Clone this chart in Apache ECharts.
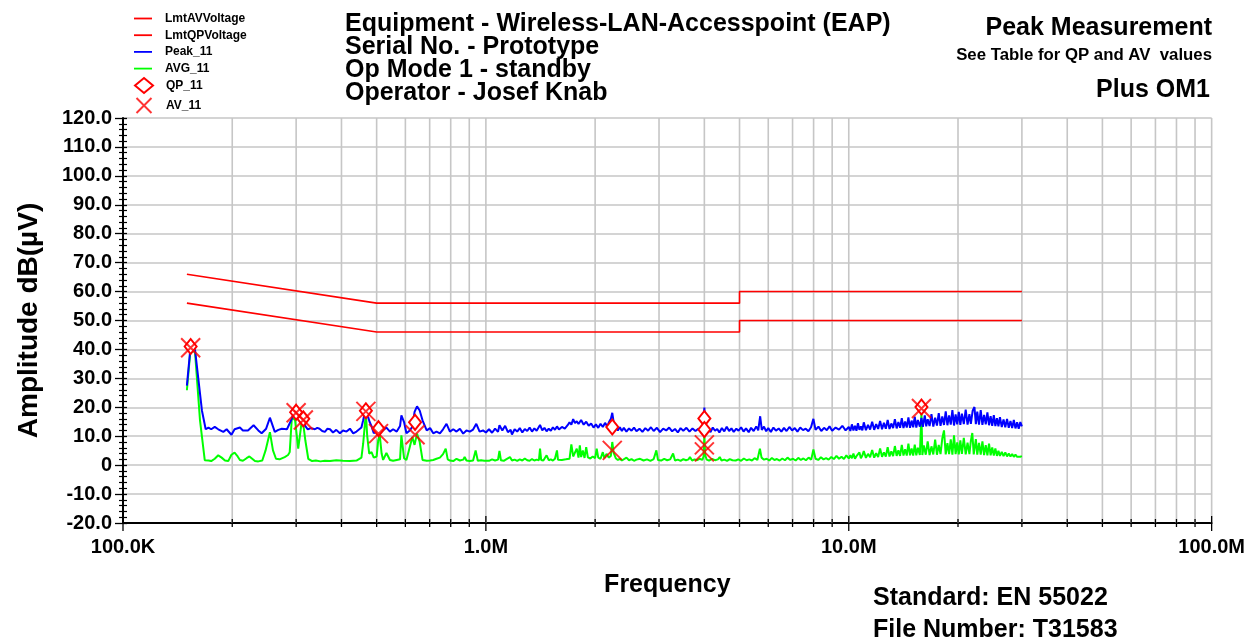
<!DOCTYPE html>
<html>
<head>
<meta charset="utf-8">
<script src="https://cdn.jsdelivr.net/npm/echarts@6/dist/echarts.min.js"></script>
<style>
  html, body { margin: 0; padding: 0; background: #ffffff; }
  #chart { width: 1248px; height: 639px; }
</style>
</head>
<body>
<div id="chart"></div>
<script>
// ---- Limit lines (frequency in MHz, level in dBµV) ----
const lmtAVVoltage = [[0.15, 56], [0.5, 46], [5, 46], [5, 50], [30, 50]];
const lmtQPVoltage = [[0.15, 66], [0.5, 56], [5, 56], [5, 60], [30, 60]];

// ---- Peak detector sweep ----
const peak11 = [
  [0.150,27.5],[0.1536,41.2],[0.158,39.7],[0.165,18.9],[0.169,12.4],[0.172,13.0],[0.175,12.4],[0.179,13.2],
  [0.183,12.4],[0.189,11.5],[0.193,12.4],[0.199,10.5],[0.203,12.4],[0.210,13.0],[0.214,12.0],[0.221,12.0],
  [0.229,13.8],[0.236,12.0],[0.241,11.0],[0.248,12.6],[0.254,16.4],[0.262,11.5],[0.268,12.2],[0.274,12.6],
  [0.283,12.4],[0.292,16.1],[0.296,18.4],[0.300,17.0],[0.304,16.4],[0.309,18.9],[0.314,16.1],[0.318,13.5],
  [0.323,12.4],[0.330,12.8],[0.338,12.4],[0.343,12.9],[0.348,12.6],[0.354,11.8],[0.360,11.5],[0.366,12.6],
  [0.372,12.4],[0.379,11.3],[0.387,12.2],[0.396,11.0],[0.404,12.0],[0.413,11.6],[0.422,12.6],[0.431,11.0],
  [0.440,11.6],[0.454,13.0],[0.459,15.5],[0.464,18.4],[0.469,18.9],[0.474,16.5],[0.478,15.0],[0.484,13.5],
  [0.491,11.0],[0.500,12.0],[0.507,14.8],[0.512,12.8],[0.516,11.6],[0.521,12.0],[0.532,13.0],[0.544,11.6],
  [0.555,12.4],[0.568,11.6],[0.580,13.5],[0.585,17.2],[0.595,14.9],[0.604,11.0],[0.617,12.0],[0.627,13.2],
  [0.636,18.4],[0.646,20.3],[0.657,18.9],[0.669,15.5],[0.687,12.0],[0.702,12.8],[0.716,11.0],[0.731,11.6],
  [0.747,11.0],[0.762,12.4],[0.779,14.3],[0.796,11.6],[0.813,12.4],[0.830,11.6],[0.848,12.6],[0.866,10.9],
  [0.884,12.0],[0.903,11.6],[0.922,12.3],[0.941,14.3],[0.961,11.6],[0.982,12.0],
  [1.00,11.3],[1.02,12.4],[1.04,11.2],[1.06,12.6],[1.08,11.5],[1.09,13.8],[1.11,12.0],[1.13,13.6],
  [1.15,11.4],[1.17,12.2],[1.18,10.6],[1.20,12.4],[1.22,11.6],[1.24,12.8],[1.26,11.3],[1.28,12.5],
  [1.30,11.8],[1.32,13.0],[1.34,11.6],[1.36,12.7],[1.38,11.9],[1.41,13.9],[1.43,12.0],[1.45,12.9],
  [1.47,11.7],[1.49,12.6],[1.51,11.9],[1.53,13.1],[1.55,12.2],[1.57,13.4],[1.59,12.3],[1.62,13.2],
  [1.65,12.6],[1.68,13.8],[1.70,14.8],[1.72,14.0],[1.74,15.9],[1.76,14.5],[1.78,15.2],[1.80,14.2],
  [1.83,15.6],[1.86,14.0],[1.89,15.0],[1.92,13.6],[1.95,14.4],[1.98,13.0],[2.01,14.1],[2.04,12.9],
  [2.07,14.3],[2.10,13.2],[2.13,14.6],[2.16,13.4],[2.19,15.2],[2.21,16.0],[2.23,18.1],[2.25,14.8],
  [2.28,13.4],[2.31,12.0],[2.34,13.1],[2.37,11.8],[2.40,12.9],[2.44,11.6],[2.48,12.7],[2.52,11.9],
  [2.56,13.0],[2.60,11.7],[2.65,12.6],[2.70,11.5],[2.75,12.8],[2.80,11.9],[2.85,13.1],[2.90,11.8],
  [2.96,12.9],[3.02,11.4],[3.08,12.6],[3.14,12.0],[3.20,13.0],[3.26,11.7],[3.32,12.5],[3.38,11.3],
  [3.44,12.8],[3.50,11.9],[3.57,12.9],[3.64,11.6],[3.71,12.7],[3.78,11.8],[3.85,12.6],[3.92,12.0],
  [3.97,13.0],[4.00,19.9],[4.03,13.2],[4.07,11.8],
  [4.10,12.9],[4.16,11.4],[4.22,13.0],[4.28,11.9],[4.34,12.5],[4.40,11.3],[4.47,12.8],[4.54,11.7],
  [4.61,13.3],[4.68,11.8],[4.75,12.7],[4.82,11.5],[4.90,12.6],[4.97,11.9],[5.05,13.1],[5.13,11.6],
  [5.21,12.7],[5.30,11.4],[5.38,12.9],[5.47,11.8],[5.56,13.4],[5.63,12.0],[5.70,16.9],[5.76,12.2],
  [5.84,13.3],[5.92,11.7],[6.00,12.8],[6.10,11.5],[6.20,13.0],[6.30,11.9],[6.41,12.7],[6.52,11.6],
  [6.63,12.9],[6.74,11.8],[6.86,13.2],[6.98,12.0],[7.10,12.8],[7.22,11.6],[7.35,13.0],[7.48,12.1],
  [7.61,12.6],[7.74,11.7],[7.87,13.1],[7.99,16.0],[8.10,12.2],[8.25,13.3],[8.40,11.8],[8.55,12.9],
  [8.70,12.1],[8.85,13.4],[9.00,11.9],[9.20,13.0],[9.40,12.3],[9.60,13.6],[9.80,12.0],
  [10.0,13.2],[10.1,11.8],[10.2,14.1],[10.3,12.0],[10.4,13.6],[10.5,11.9],[10.6,14.5],[10.7,12.2],
  [10.8,13.4],[10.9,12.0],[11.0,14.8],[11.15,12.1],[11.3,13.9],[11.45,12.3],[11.6,15.0],[11.75,12.2],
  [11.9,14.2],[12.05,12.5],[12.2,15.3],[12.35,12.4],[12.5,14.6],[12.65,12.6],[12.8,15.6],[12.95,12.5],
  [13.1,14.4],[13.25,12.8],[13.4,15.9],[13.55,12.7],[13.7,14.9],[13.85,12.9],[14.0,16.2],[14.15,12.8],
  [14.3,15.1],[14.45,13.0],[14.6,16.5],[14.75,12.9],[14.9,15.4],[15.05,13.1],[15.2,16.8],[15.35,13.0],
  [15.5,15.6],[15.7,13.3],[15.86,16.3],[16.0,13.2],[16.2,17.2],[16.35,13.4],[16.5,15.9],[16.7,13.5],
  [16.9,17.6],[17.1,13.3],[17.3,16.4],[17.5,13.7],[17.7,18.0],[17.9,13.6],[18.1,16.8],[18.3,13.9],
  [18.5,18.6],[18.7,13.8],[18.9,17.2],[19.1,14.0],[19.3,19.0],[19.5,13.7],[19.7,17.5],[19.9,14.1],
  [20.1,18.4],[20.3,13.9],[20.5,17.8],[20.75,14.2],[21.0,19.2],[21.25,14.0],[21.5,17.6],[21.7,14.3],
  [21.95,18.8],[22.2,20.1],[22.4,14.2],[22.6,18.5],[22.85,14.0],[23.1,19.0],[23.35,13.9],[23.6,17.4],
  [23.85,14.1],[24.1,18.2],[24.35,13.8],[24.6,16.9],[24.85,13.6],[25.1,17.3],[25.35,13.5],[25.6,16.2],
  [25.85,13.4],[26.1,16.6],[26.4,13.2],[26.7,15.8],[27.0,13.1],[27.3,16.0],[27.6,12.9],[27.9,15.3],
  [28.2,12.8],[28.5,15.6],[28.8,12.7],[29.1,14.8],[29.4,12.6],[29.7,14.9],[30.0,13.4]
];

// ---- Average detector sweep ----
const avg11 = [
  [0.150,25.9],[0.1536,40.5],[0.158,38.8],[0.163,15.5],[0.168,1.7],[0.172,1.6],[0.175,1.4],[0.179,2.2],
  [0.183,3.4],[0.187,2.6],[0.191,1.6],[0.195,1.4],[0.199,3.6],[0.203,4.3],[0.207,3.0],[0.210,1.8],
  [0.214,1.5],[0.219,2.4],[0.223,3.0],[0.227,2.2],[0.231,1.4],[0.236,1.3],[0.242,1.6],[0.247,5.0],
  [0.254,11.4],[0.259,5.1],[0.264,2.2],[0.270,2.0],[0.279,2.8],[0.285,3.5],[0.288,4.5],[0.292,16.6],
  [0.298,15.5],[0.304,5.7],[0.312,16.8],[0.318,8.6],[0.324,2.2],[0.332,1.4],[0.340,1.6],[0.350,1.3],
  [0.360,1.5],[0.372,1.4],[0.387,1.7],[0.404,1.5],[0.422,1.4],[0.440,1.6],[0.454,2.6],[0.459,7.4],
  [0.467,18.0],[0.471,10.0],[0.477,4.0],[0.484,4.5],[0.491,2.6],[0.500,3.0],[0.505,8.6],[0.510,10.3],
  [0.516,4.0],[0.521,1.8],[0.532,4.2],[0.544,1.8],[0.555,1.5],[0.568,1.8],[0.580,2.0],[0.585,10.3],
  [0.595,2.4],[0.604,1.8],[0.617,6.3],[0.627,9.7],[0.636,7.0],[0.646,10.9],[0.657,8.0],[0.669,1.8],
  [0.687,1.5],[0.702,1.6],[0.716,1.8],[0.731,2.2],[0.747,2.6],[0.762,3.8],[0.775,5.7],[0.785,2.0],
  [0.796,1.6],[0.813,1.4],[0.830,2.2],[0.848,1.6],[0.866,1.9],[0.874,2.8],[0.884,1.6],[0.903,1.4],
  [0.922,1.6],[0.937,5.1],[0.950,1.5],[0.970,1.7],[0.990,1.5],
  [1.00,1.8],[1.02,1.5],[1.04,2.0],[1.06,1.6],[1.08,1.9],[1.09,4.9],[1.10,1.7],[1.12,1.5],
  [1.14,2.1],[1.165,2.8],[1.18,1.6],[1.20,1.9],[1.22,1.5],[1.24,2.0],[1.26,1.6],[1.28,2.3],
  [1.30,1.7],[1.32,1.5],[1.34,2.1],[1.36,1.6],[1.38,1.9],[1.40,1.7],[1.41,5.7],[1.42,1.8],
  [1.44,1.6],[1.47,3.4],[1.49,1.7],[1.51,2.0],[1.53,1.6],[1.55,2.2],[1.57,5.1],[1.58,1.9],
  [1.60,2.1],[1.62,1.8],[1.64,2.4],[1.66,2.0],[1.68,2.6],[1.70,2.2],[1.72,7.2],[1.74,3.0],
  [1.76,2.4],[1.78,5.7],[1.80,2.6],[1.815,6.8],[1.83,2.8],[1.85,5.1],[1.87,2.5],[1.89,6.2],
  [1.91,2.7],[1.94,2.3],[1.97,3.0],[2.00,2.4],[2.02,5.7],[2.04,2.6],[2.07,2.2],[2.10,4.5],
  [2.12,2.5],[2.15,3.9],[2.18,2.6],[2.21,3.2],[2.23,8.0],[2.25,4.2],[2.28,2.4],[2.31,1.8],
  [2.34,2.2],[2.37,1.6],[2.40,2.0],[2.44,2.6],[2.48,1.7],[2.52,2.1],[2.56,1.5],[2.60,1.9],
  [2.66,2.2],[2.72,1.6],[2.78,2.0],[2.84,1.5],[2.90,2.1],[2.95,5.1],[2.98,1.8],[3.04,1.6],
  [3.10,2.2],[3.16,1.7],[3.22,2.0],[3.28,4.0],[3.32,1.6],[3.38,1.9],[3.44,1.5],[3.50,2.1],
  [3.56,1.7],[3.62,2.0],[3.65,2.8],[3.70,1.6],[3.76,2.0],[3.82,1.7],[3.88,2.2],[3.95,1.8],
  [3.98,3.0],[4.00,10.3],[4.02,3.5],[4.06,1.9],
  [4.12,1.6],[4.20,2.2],[4.28,1.7],[4.36,2.0],[4.41,2.8],[4.46,1.6],[4.54,1.9],[4.62,1.5],
  [4.70,2.1],[4.78,1.7],[4.81,2.2],[4.88,1.6],[4.96,2.0],[5.05,1.5],[5.14,2.3],[5.23,1.7],
  [5.32,2.0],[5.41,1.6],[5.50,2.4],[5.60,1.8],[5.69,5.7],[5.75,2.6],[5.84,1.9],[5.94,2.2],
  [6.04,1.6],[6.14,2.5],[6.24,1.8],[6.34,2.1],[6.45,1.6],[6.56,2.3],[6.67,1.7],[6.78,2.6],
  [6.90,1.8],[7.02,2.2],[7.14,1.6],[7.26,2.5],[7.38,1.8],[7.50,2.3],[7.62,1.7],[7.75,2.6],
  [7.88,1.9],[7.99,5.4],[8.10,2.2],[8.24,1.8],[8.38,2.7],[8.52,2.0],[8.66,2.4],[8.80,1.9],
  [8.95,2.8],[9.10,2.1],[9.25,3.2],[9.40,2.2],[9.55,2.9],[9.70,2.1],[9.85,3.4],
  [10.0,2.3],[10.1,3.4],[10.2,2.4],[10.3,4.0],[10.4,2.2],[10.5,3.1],[10.6,2.6],[10.7,4.4],
  [10.8,2.4],[10.9,3.3],[11.0,4.9],[11.15,2.5],[11.3,3.9],[11.45,2.7],[11.6,5.2],[11.75,2.6],
  [11.9,4.1],[12.05,2.8],[12.2,5.8],[12.35,2.9],[12.5,4.4],[12.65,3.0],[12.8,6.2],[12.95,3.0],
  [13.1,4.8],[13.25,3.1],[13.4,6.6],[13.55,3.2],[13.7,5.1],[13.85,3.2],[14.0,7.0],[14.15,3.3],
  [14.3,5.5],[14.45,3.3],[14.6,7.4],[14.75,3.4],[14.9,5.8],[15.05,3.3],[15.2,7.1],[15.35,3.4],
  [15.5,6.0],[15.7,3.5],[15.86,18.0],[15.95,3.5],[16.1,6.8],[16.3,3.6],[16.5,8.2],[16.7,3.5],
  [16.9,6.5],[17.1,3.7],[17.3,8.8],[17.5,3.6],[17.7,7.0],[17.9,3.8],[18.1,9.2],[18.3,12.0],
  [18.5,3.7],[18.7,7.6],[18.9,3.8],[19.1,8.9],[19.3,3.6],[19.5,10.3],[19.7,3.8],[19.9,7.9],
  [20.1,3.7],[20.3,8.6],[20.5,3.9],[20.75,9.4],[21.0,3.7],[21.25,7.8],[21.5,3.8],[21.7,8.4],
  [21.9,11.1],[22.1,3.7],[22.4,9.0],[22.6,3.6],[22.85,7.7],[23.1,3.6],[23.35,8.2],[23.6,3.5],
  [23.85,6.9],[24.1,3.4],[24.35,7.4],[24.6,3.4],[24.85,6.1],[25.1,3.3],[25.35,5.8],[25.6,3.2],
  [25.85,5.0],[26.1,3.2],[26.4,4.6],[26.7,3.1],[27.0,4.4],[27.3,3.0],[27.6,4.0],[27.9,3.0],
  [28.2,3.8],[28.5,2.9],[28.8,3.6],[29.1,2.9],[29.4,3.4],[29.7,2.9],[30.0,3.1]
];

// ---- Final measurements ----
const qp11 = [[0.1536,41.0],[0.300,18.3],[0.314,16.0],[0.467,18.8],[0.506,12.6],[0.638,14.8],
              [2.23,13.2],[4.00,16.1],[4.00,12.3],[15.86,20.1]];
const av11 = [[0.1536,40.6],[0.300,18.1],[0.314,15.6],[0.467,18.6],[0.506,10.9],[0.638,10.5],
              [2.23,5.1],[4.00,7.0],[4.00,4.6],[15.86,19.6]];

// ---- Axis ----
const freqGridMHz = [0.1,0.2,0.3,0.4,0.5,0.6,0.7,0.8,0.9,
                     1,2,3,4,5,6,7,8,9,
                     10,20,30,40,50,60,70,80,90,100];
const freqDecadesMHz = [0.1, 1, 10, 100];
const levelMin = -20, levelMax = 120, levelStep = 10;

const FONT = '"Liberation Sans", Arial, Helvetica, sans-serif';
const RED = '#ff0000', BLUE = '#0000ff', GREEN = '#00ff00', GRID = '#c6c6c6';
const LINE_ICON = 'path://M0,0H18V1.8H0Z';

function freqLabel(v) {
  return v >= 1 ? v.toFixed(1) + 'M' : (v * 1000).toFixed(1) + 'K';
}

// vertical grid lines at 1..9 x decade plus the small tick marks on the frequency axis
function renderFreqGrid(params, api) {
  const f = api.value(0);
  const major = api.value(2) === 1;
  const top = api.coord([f, levelMax]);
  const bot = api.coord([f, levelMin]);
  const children = [];
  if (f > freqGridMHz[0] * 1.01) {
    children.push({ type: 'line', shape: { x1: top[0], y1: top[1], x2: bot[0], y2: bot[1] },
                    style: { stroke: GRID, lineWidth: 1.6 } });
  }
  children.push({ type: 'line',
                  shape: { x1: bot[0], y1: bot[1] - (major ? 7 : 4), x2: bot[0], y2: bot[1] + (major ? 8 : 4) },
                  style: { stroke: '#000', lineWidth: 1.3 } });
  return { type: 'group', children };
}

const xMarkPath = 'path://M0,0L20,20M20,0L0,20';
const legendText = { fontFamily: FONT, fontWeight: 'bold', fontSize: 12, color: '#000', padding: [0, 0, 0, 8] };

const chart = echarts.init(document.getElementById('chart'), null, { renderer: 'canvas' });
chart.setOption({
  animation: false,
  backgroundColor: '#ffffff',
  textStyle: { fontFamily: FONT },
  title: [
    { text: 'Equipment - Wireless-LAN-Accesspoint (EAP)\nSerial No. - Prototype\nOp Mode 1 - standby\nOperator - Josef Knab',
      left: 345, top: 12, padding: 0,
      textStyle: { fontFamily: FONT, fontWeight: 'bold', fontSize: 25, lineHeight: 23.3, color: '#000' } },
    { text: 'Peak Measurement', right: 36, top: 16, padding: 0,
      textStyle: { fontFamily: FONT, fontWeight: 'bold', fontSize: 25, color: '#000' } },
    { text: 'See Table for QP and AV  values', right: 36, top: 47, padding: 0,
      textStyle: { fontFamily: FONT, fontWeight: 'bold', fontSize: 16.8, color: '#000' } },
    { text: 'Plus OM1', right: 38, top: 78, padding: 0,
      textStyle: { fontFamily: FONT, fontWeight: 'bold', fontSize: 25, color: '#000' } },
    { text: 'Standard: EN 55022', left: 873, top: 586, padding: 0,
      textStyle: { fontFamily: FONT, fontWeight: 'bold', fontSize: 25, color: '#000' } },
    { text: 'File Number: T31583', left: 873, top: 618, padding: 0,
      textStyle: { fontFamily: FONT, fontWeight: 'bold', fontSize: 25, color: '#000' } }
  ],
  legend: [
    { data: [{ name: 'LmtAVVoltage', icon: LINE_ICON }, { name: 'LmtQPVoltage', icon: LINE_ICON },
             { name: 'Peak_11', icon: LINE_ICON }, { name: 'AVG_11', icon: LINE_ICON }],
      orient: 'vertical', left: 134, top: 12.5, padding: 0,
      itemWidth: 18, itemHeight: 12, itemGap: 4.7, selectedMode: false, textStyle: legendText },
    { data: ['QP_11', 'AV_11'],
      orient: 'vertical', left: 134, top: 77, padding: 0,
      itemWidth: 18, itemHeight: 15, itemGap: 1.5, selectedMode: false, textStyle: legendText }
  ],
  grid: { left: 123, right: 36, top: 118, bottom: 116, containLabel: false },
  xAxis: {
    type: 'log', logBase: 10, min: 0.1, max: 100,
    name: 'Frequency', nameLocation: 'middle', nameGap: 50,
    nameTextStyle: { fontFamily: FONT, fontWeight: 'bold', fontSize: 25, color: '#000' },
    axisLine: { onZero: false, lineStyle: { color: '#000', width: 2 } },
    axisTick: { show: false },
    splitLine: { show: false },
    axisLabel: { formatter: freqLabel, margin: 14, fontFamily: FONT, fontWeight: 'bold', fontSize: 20, color: '#000' }
  },
  yAxis: [
    { type: 'value', min: levelMin, max: levelMax, interval: levelStep,
      name: 'Amplitude dB(µV)', nameLocation: 'middle', nameGap: 80,
      nameTextStyle: { fontFamily: FONT, fontWeight: 'bold', fontSize: 28, color: '#000' },
      axisLine: { show: true, lineStyle: { color: '#000', width: 2 } },
      axisTick: { show: true, length: 8, lineStyle: { color: '#000', width: 1.3 } },
      minorTick: { show: true, splitNumber: 5, length: 4, lineStyle: { color: '#000', width: 1.2 } },
      splitLine: { show: true, lineStyle: { color: GRID, width: 1.6 } },
      axisLabel: { margin: 11, fontFamily: FONT, fontWeight: 'bold', fontSize: 20, color: '#000',
                   formatter: v => (v === 0 ? '0' : v.toFixed(1)) } },
    { type: 'value', min: levelMin, max: levelMax, interval: levelStep, position: 'left',
      axisLine: { show: false },
      axisTick: { show: true, inside: true, length: 4, lineStyle: { color: '#000', width: 1.3 } },
      minorTick: { show: true, splitNumber: 5, length: 4, lineStyle: { color: '#000', width: 1.2 } },
      splitLine: { show: false }, axisLabel: { show: false } }
  ],
  series: [
    { name: 'freqGrid', type: 'custom', z: 1, silent: true, clip: false,
      renderItem: renderFreqGrid,
      data: freqGridMHz.map(f => [f, levelMin, freqDecadesMHz.includes(f) ? 1 : 0]) },
    { name: 'AVG_11', type: 'line', data: avg11, symbol: 'none', z: 3,
      lineStyle: { color: GREEN, width: 2 }, itemStyle: { color: GREEN } },
    { name: 'Peak_11', type: 'line', data: peak11, symbol: 'none', z: 4,
      lineStyle: { color: BLUE, width: 2 }, itemStyle: { color: BLUE } },
    { name: 'LmtAVVoltage', type: 'line', data: lmtAVVoltage, symbol: 'none', z: 5,
      lineStyle: { color: RED, width: 1.6 }, itemStyle: { color: RED } },
    { name: 'LmtQPVoltage', type: 'line', data: lmtQPVoltage, symbol: 'none', z: 5,
      lineStyle: { color: RED, width: 1.6 }, itemStyle: { color: RED } },
    { name: 'QP_11', type: 'scatter', data: qp11, symbol: 'diamond', symbolSize: [12, 15], z: 6,
      itemStyle: { color: '#ffffff', borderColor: RED, borderWidth: 2, opacity: 1 } },
    { name: 'AV_11', type: 'scatter', data: av11, symbol: xMarkPath, symbolSize: 19, z: 7,
      itemStyle: { color: 'none', borderColor: RED, borderWidth: 2 } }
  ]
});
</script>
</body>
</html>
